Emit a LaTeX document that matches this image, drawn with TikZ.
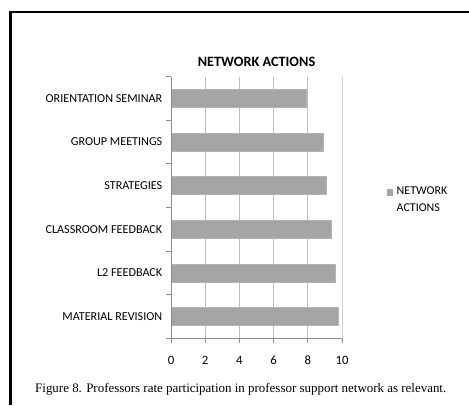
\documentclass[tikz,border=0pt]{standalone}
\usepackage{fontspec}
\setmainfont{Carlito}
\newfontfamily\capfont{Liberation Serif}
\definecolor{barfill}{HTML}{A5A5A5}
\definecolor{barline}{HTML}{B4B4B4}
\definecolor{gridgray}{HTML}{BEBEBE}
\definecolor{axisgray}{HTML}{8C8C8C}
\tikzset{
  catlabel/.style={anchor=east, inner sep=0pt, font=\fontsize{12.2}{14}\selectfont},
  numlabel/.style={inner sep=0pt, font=\fontsize{12.8}{15}\selectfont},
  bar/.style={fill=barfill, draw=barline, line width=0.6bp}
}
\begin{document}
\begin{tikzpicture}[x=1bp,y=-1bp]
    \useasboundingbox (0,0) rectangle (469,405);

    \draw[line width=2.4bp] (10.5,405) -- (10.5,12) -- (469,12);

    \node[inner sep=0pt, font=\fontsize{14.3}{17}\selectfont\bfseries] (title) at (256.5,62) {NETWORK ACTIONS};

    \begin{scope}[xshift=171bp, x=17.1bp]
    \draw[gridgray, line width=0.8bp] (2,76.5) -- (2,338.5) (4,76.5) -- (4,338.5) (6,76.5) -- (6,338.5) (8,76.5) -- (8,338.5);
    \draw[gridgray!70, line width=0.8bp] (10,76.5) -- (10,338.5);

    \fill[bar] (0,89.3) rectangle (7.9,107.3);
    \fill[bar] (0,133) rectangle (8.9,151);
    \fill[bar] (0,176.7) rectangle (9.1,194.7);
    \fill[bar] (0,220.3) rectangle (9.4,238.3);
    \fill[bar] (0,264) rectangle (9.6,282);
    \fill[bar] (0,307.7) rectangle (9.8,325.7);

    \draw[axisgray, line width=0.8bp] (0,76.5) -- (0,338.5) -- (10,338.5);
    \draw[axisgray, line width=0.8bp] (0,76.5) -- ++(-5bp,0) (0,120.2) -- ++(-5bp,0) (0,163.8) -- ++(-5bp,0) (0,207.5) -- ++(-5bp,0) (0,251.2) -- ++(-5bp,0) (0,294.8) -- ++(-5bp,0) (0,338.5) -- ++(-5bp,0);
    \draw[axisgray, line width=0.8bp] (0,338.5) -- ++(0,4.5) (2,338.5) -- ++(0,4.5) (4,338.5) -- ++(0,4.5) (6,338.5) -- ++(0,4.5) (8,338.5) -- ++(0,4.5) (10,338.5) -- ++(0,4.5);

    \node[numlabel] (n0) at (0,360) {0};
    \node[numlabel] (n2) at (2,360) {2};
    \node[numlabel] (n4) at (4,360) {4};
    \node[numlabel] (n6) at (6,360) {6};
    \node[numlabel] (n8) at (8,360) {8};
    \node[numlabel] (n10) at (10,360) {10};
    \end{scope}

    \node[catlabel] (orient) at (162.5,98.3) {ORIENTATION SEMINAR};
    \node[catlabel] (group) at (162.5,142) {GROUP MEETINGS};
    \node[catlabel] (strat) at (162.5,185.7) {STRATEGIES};
    \node[catlabel] (class) at (162.5,229.3) {CLASSROOM FEEDBACK};
    \node[catlabel] (ltwo) at (162.5,273) {L2 FEEDBACK};
    \node[catlabel] (material) at (162.5,316.7) {MATERIAL REVISION};

    \fill[barfill] (386.7,189) rectangle (393.3,195.7);
    \node[anchor=north west, inner sep=0pt, align=left, font=\fontsize{12}{17}\selectfont] (legend) at (396.5,187) {NETWORK\\ACTIONS};

    \node[anchor=west, inner sep=0pt, font=\capfont\fontsize{13}{15}\selectfont] (caption) at (35,389) {Figure 8. Professors rate participation in professor support network as relevant.};
\end{tikzpicture}
\end{document}
